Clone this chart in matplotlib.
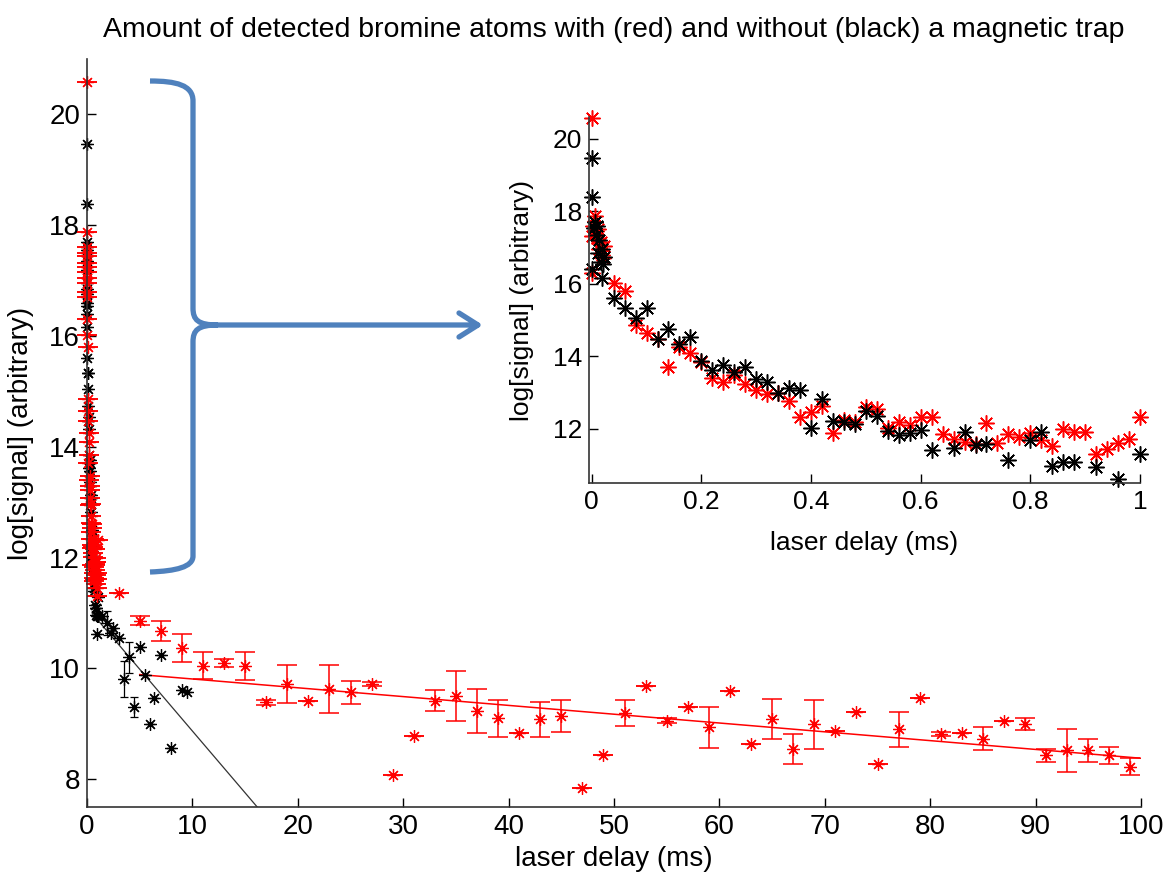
import matplotlib
matplotlib.use('Agg')
import matplotlib.pyplot as plt
from matplotlib.path import Path
from matplotlib.patches import PathPatch
from matplotlib.transforms import Affine2D

plt.rcParams['font.family'] = ['Liberation Sans', 'DejaVu Sans']

# ---- data: fast part (0 - 1 ms), shown in both panels ----
red_fast_x = [0.000, 0.000, 0.000, 0.003, 0.006, 0.008, 0.010, 0.012, 0.014, 0.016, 0.018, 0.020, 0.022,
              0.04, 0.06, 0.08, 0.10, 0.12, 0.14, 0.16, 0.18, 0.20, 0.22, 0.24, 0.26, 0.28, 0.30,
              0.32, 0.34, 0.36, 0.38, 0.40, 0.42, 0.44, 0.46, 0.48, 0.50, 0.52, 0.54, 0.56, 0.58,
              0.60, 0.62, 0.64, 0.66, 0.68, 0.70, 0.72, 0.74, 0.76, 0.78, 0.80, 0.82, 0.84, 0.86,
              0.88, 0.90, 0.92, 0.94, 0.96, 0.98, 1.00]
red_fast_y = [20.58, 16.30, 17.32, 17.60, 17.87, 17.45, 17.25, 17.50, 16.95, 17.15, 16.80, 16.70, 17.04,
              16.01, 15.80, 14.86, 14.65, 14.46, 13.71, 14.25, 14.09, 13.85, 13.41, 13.30, 13.47, 13.22, 13.08,
              12.95, 12.97, 12.76, 12.33, 12.47, 12.63, 11.87, 12.23, 12.17, 12.60, 12.53, 12.01, 12.19, 12.09,
              12.33, 12.33, 11.84, 11.72, 11.64, 11.57, 12.15, 11.61, 11.86, 11.77, 11.89, 11.68, 11.52, 12.00,
              11.92, 11.92, 11.31, 11.45, 11.61, 11.72, 12.32]

black_fast_x = [0.000, 0.000, 0.001, 0.004, 0.006, 0.008, 0.010, 0.012, 0.014, 0.016, 0.018, 0.020, 0.022, 0.019,
                0.04, 0.06, 0.08, 0.10, 0.12, 0.14, 0.16, 0.18, 0.20, 0.22, 0.24, 0.26, 0.28, 0.30,
                0.32, 0.34, 0.36, 0.38, 0.40, 0.42, 0.44, 0.46, 0.48, 0.50, 0.52, 0.54, 0.56, 0.58,
                0.60, 0.62, 0.66, 0.68, 0.70, 0.72, 0.76, 0.80, 0.82, 0.84, 0.86, 0.88, 0.92, 0.96, 1.00]
black_fast_y = [19.46, 18.39, 16.40, 17.55, 17.70, 17.35, 17.60, 16.85, 17.20, 16.60, 16.95, 16.55, 16.75, 16.17,
                15.60, 15.34, 15.04, 15.34, 14.46, 14.74, 14.33, 14.53, 13.86, 13.61, 13.77, 13.57, 13.71, 13.36,
                13.29, 12.97, 13.13, 13.08, 12.03, 12.83, 12.21, 12.17, 12.12, 12.50, 12.35, 11.94, 11.83, 11.89,
                11.95, 11.40, 11.46, 11.92, 11.54, 11.59, 11.14, 11.68, 11.92, 10.97, 11.09, 11.09, 10.94, 10.62, 11.29]

# ---- data: slow part (> 1 ms), main panel only ----
red_slow_x = [3, 5, 7, 9, 11, 13, 15, 17, 19, 21, 23, 25, 27, 29, 31, 33, 35, 37, 39, 41, 43, 45, 47, 49,
              51, 53, 55, 57, 59, 61, 63, 65, 67, 69, 71, 73, 75, 77, 79, 81, 83, 85, 87, 89, 91, 93, 95, 97, 99]
red_slow_y = [11.36, 10.86, 10.68, 10.37, 10.05, 10.10, 10.05, 9.39, 9.72, 9.42, 9.63, 9.57, 9.72, 8.08,
              8.79, 9.42, 9.51, 9.23, 9.10, 8.83, 9.08, 9.15, 7.84, 8.43, 9.20, 9.69, 9.06, 9.30, 8.94,
              9.59, 8.64, 9.09, 8.55, 8.99, 8.88, 9.21, 8.28, 8.90, 9.46, 8.82, 8.83, 8.73, 9.06, 9.00,
              8.43, 8.52, 8.52, 8.43, 8.23]
red_slow_err = [0.0, 0.08, 0.18, 0.26, 0.24, 0.08, 0.25, 0.05, 0.35, 0.0, 0.44, 0.21, 0.03, 0.0,
                0.0, 0.19, 0.45, 0.40, 0.33, 0.0, 0.32, 0.29, 0.0, 0.0, 0.23, 0.0, 0.05, 0.0, 0.37,
                0.0, 0.0, 0.36, 0.27, 0.45, 0.0, 0.0, 0.0, 0.31, 0.0, 0.03, 0.0, 0.21, 0.0, 0.11,
                0.11, 0.39, 0.20, 0.16, 0.15]

black_slow_x = [1.0, 1.4, 1.9, 2.3, 2.5, 3.0, 3.5, 4.0, 4.5, 5.0, 5.5, 6.0, 6.4, 7.0, 8.0, 9.0, 9.5]
black_slow_y = [10.94, 10.94, 10.82, 10.64, 10.73, 10.55, 9.81, 10.20, 9.30, 10.38, 9.89, 9.00, 9.46,
                10.25, 8.56, 9.62, 9.57]
black_slow_err = [0.0, 0.0, 0.22, 0.0, 0.0, 0.0, 0.33, 0.28, 0.18, 0.0, 0.0, 0.0, 0.0, 0.0, 0.0, 0.0, 0.0]

# fitted lines (end points)
black_fit_x = [0.5, 17.0]
black_fit_y = [10.99, 7.31]
red_fit_x = [5.0, 100.0]
red_fit_y = [9.89, 8.38]

W, H = 1165, 872
fig = plt.figure(figsize=(W / 100, H / 100), dpi=100)
ast = (8, 2, 0)  # matlab-like asterisk


def style_axes(a, fs):
    for s in ['top', 'right']:
        a.spines[s].set_visible(False)
    for s in ['left', 'bottom']:
        a.spines[s].set_linewidth(1.2)
        a.spines[s].set_color('#333333')
    a.tick_params(direction='in', length=6.5, width=1.0, labelsize=fs, colors='k', pad=5)


# main panel
ax = fig.add_axes([87 / W, 1 - 807 / H, (1141 - 87) / W, (807 - 59) / H])
ax.plot(black_fit_x, black_fit_y, color='#333333', lw=0.9)
ax.plot(red_fit_x, red_fit_y, color='red', lw=1.1)

ax.errorbar(black_fast_x + black_slow_x, black_fast_y + black_slow_y,
            yerr=[0.0] * len(black_fast_x) + black_slow_err,
            fmt='none', ecolor='k', elinewidth=0.9, capsize=3, capthick=0.9, clip_on=False)
ax.plot(black_fast_x + black_slow_x, black_fast_y + black_slow_y, ls='none', marker=ast,
        ms=9, mew=0.9, color='k', clip_on=False)

ax.errorbar(red_fast_x + red_slow_x, red_fast_y + red_slow_y,
            yerr=[0.0] * len(red_fast_x) + red_slow_err,
            fmt='none', ecolor='red', elinewidth=1.1, capsize=7, capthick=1.1, clip_on=False)
ax.plot(red_fast_x + red_slow_x, red_fast_y + red_slow_y, ls='none', marker=ast,
        ms=9, mew=0.9, color='red', clip_on=False)

ax.set_xlim(0, 100)
ax.set_ylim(7.5, 21)
ax.set_xticks(range(0, 101, 10))
ax.set_yticks(range(8, 21, 2))
style_axes(ax, 20)
ax.set_xlabel('laser delay (ms)', fontsize=20)
ax.set_ylabel('log[signal] (arbitrary)', fontsize=20)
ax.xaxis.set_label_coords(0.5, -0.052)
ax.yaxis.set_label_coords(-0.05, 0.5)

# inset panel
ax2 = fig.add_axes([589 / W, 1 - 483 / H, (1140 - 589) / W, (483 - 117) / H])
ax2.plot(red_fast_x, red_fast_y, ls='none', marker=ast, ms=11.5, mew=1.1, color='red', clip_on=False)
ax2.plot(black_fast_x, black_fast_y, ls='none', marker=ast, ms=11.5, mew=1.1, color='k', clip_on=False)
ax2.set_xlim(-0.005, 1.0)
ax2.set_ylim(10.5, 20.6)
ax2.set_xticks([0, 0.2, 0.4, 0.6, 0.8, 1.0])
ax2.set_xticklabels(['0', '0.2', '0.4', '0.6', '0.8', '1'])
ax2.set_yticks([12, 14, 16, 18, 20])
style_axes(ax2, 19)
ax2.set_xlabel('laser delay (ms)', fontsize=19)
ax2.set_ylabel('log[signal] (arbitrary)', fontsize=19)
ax2.xaxis.set_label_coords(0.5, -0.13)
ax2.yaxis.set_label_coords(-0.1, 0.5)

fig.text(614 / W, 1 - 30 / H,
         'Amount of detected bromine atoms with (red) and without (black) a magnetic trap',
         ha='center', va='center', fontsize=20.5)

# blue bracket + arrow (figure pixel coordinates)
pix = Affine2D().scale(1 / W, -1 / H).translate(0, 1) + fig.transFigure
blue = '#4F81BD'
brace = Path([(150, 81), (176, 81), (193, 85), (193, 101), (193, 308),
              (193, 320), (198, 325), (218, 325),
              (198, 325), (193, 330), (193, 342), (193, 556),
              (193, 567), (176, 571), (150, 572)],
             [Path.MOVETO, Path.CURVE4, Path.CURVE4, Path.CURVE4, Path.LINETO,
              Path.CURVE4, Path.CURVE4, Path.CURVE4,
              Path.CURVE4, Path.CURVE4, Path.CURVE4, Path.LINETO,
              Path.CURVE4, Path.CURVE4, Path.CURVE4])
fig.patches.append(PathPatch(brace, transform=pix, fill=False, ec=blue, lw=3.8, capstyle='butt'))
arrow = Path([(218, 325), (477, 325), (459, 313), (478, 325), (459, 337)],
             [Path.MOVETO, Path.LINETO, Path.MOVETO, Path.LINETO, Path.LINETO])
fig.patches.append(PathPatch(arrow, transform=pix, fill=False, ec=blue, lw=3.8,
                             capstyle='round', joinstyle='round'))

fig.savefig('out.png', dpi=100)
